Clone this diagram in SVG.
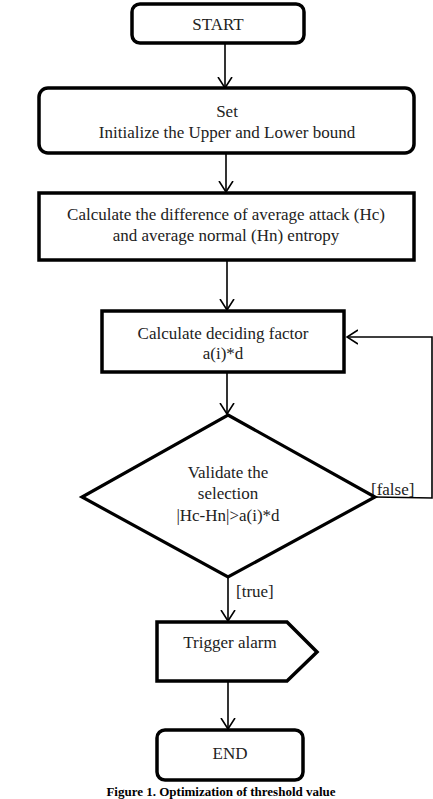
<svg xmlns="http://www.w3.org/2000/svg" width="433" height="799" viewBox="0 0 433 799">
<style>
.box{fill:#fff;stroke:#000;stroke-width:3.5}
.dia{fill:#fff;stroke:#000;stroke-width:3.2}
.t{font-family:"Liberation Serif","Times New Roman",serif;font-size:17px;fill:#222;text-anchor:middle}
.lbl{font-family:"Liberation Serif","Times New Roman",serif;font-size:17px;fill:#222}
.c{fill:none;stroke:#000;stroke-width:1.6}
.cap{font-family:"Liberation Serif","Times New Roman",serif;font-size:13px;font-weight:bold;fill:#000;text-anchor:middle}
</style>
<defs>
<marker id="arr" viewBox="0 0 12 16" refX="11" refY="8" markerWidth="12" markerHeight="16" markerUnits="userSpaceOnUse" orient="auto">
<path d="M0,1 L11,8 L0,15" fill="none" stroke="#000" stroke-width="1.6"/>
</marker>
</defs>
<rect width="433" height="799" fill="#fff"/>
<g id="connectors">
<line class="c" x1="225" y1="43" x2="225" y2="88" marker-end="url(#arr)"/>
<line class="c" x1="226" y1="153" x2="226" y2="192" marker-end="url(#arr)"/>
<line class="c" x1="227" y1="260" x2="227" y2="310" marker-end="url(#arr)"/>
<line class="c" x1="227" y1="372" x2="227" y2="414" marker-end="url(#arr)"/>
<polyline class="c" points="375,497 432,498 432,337 347,337" marker-end="url(#arr)"/>
<line class="c" x1="228" y1="577" x2="228" y2="621" marker-end="url(#arr)"/>
<line class="c" x1="228" y1="681" x2="228" y2="729" marker-end="url(#arr)"/>
<text class="lbl" x="371" y="495">[false]</text>
<text class="lbl" x="236" y="597">[true]</text>
</g>
<g id="start">
<rect class="box" x="132" y="4" width="172" height="39" rx="8"/>
<text class="t" x="218" y="30">START</text>
</g>
<g id="set">
<rect class="box" x="39" y="88" width="375" height="65" rx="9"/>
<text class="t" x="227" y="117">Set</text>
<text class="t" x="227" y="138">Initialize the Upper and Lower bound</text>
</g>
<g id="calc-diff">
<rect class="box" x="39" y="193" width="375" height="67"/>
<text class="t" x="226" y="220">Calculate the difference of average attack (Hc)</text>
<text class="t" x="226" y="241">and average normal (Hn) entropy</text>
</g>
<g id="deciding">
<rect class="box" x="102" y="311" width="242" height="61"/>
<text class="t" x="223" y="339">Calculate deciding factor</text>
<text class="t" x="223" y="359">a(i)*d</text>
</g>
<g id="validate">
<polygon class="dia" points="228,415 375,497 228,577 82,497"/>
<text class="t" x="228" y="478">Validate the</text>
<text class="t" x="228" y="499">selection</text>
<text class="t" x="228" y="521">|Hc-Hn|&gt;a(i)*d</text>
</g>
<g id="alarm">
<polygon class="box" points="157,622 287,622 317,652 287,681 157,681"/>
<text class="t" x="230" y="648">Trigger alarm</text>
</g>
<g id="end">
<rect class="box" x="157" y="730" width="146" height="50" rx="8"/>
<text class="t" x="230" y="759">END</text>
</g>
<text class="cap" x="221" y="796">Figure 1. Optimization of threshold value</text>
</svg>
